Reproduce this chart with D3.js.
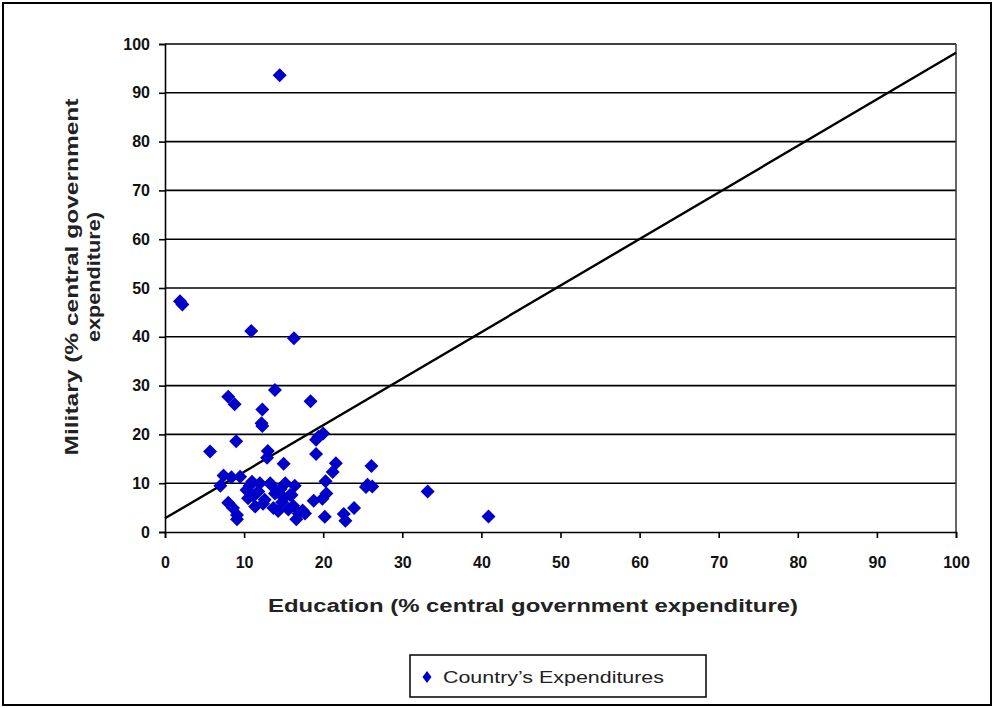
<!DOCTYPE html>
<html>
<head>
<meta charset="utf-8">
<script src="https://cdn.jsdelivr.net/npm/d3@7"></script>
<style>
  html, body { margin: 0; padding: 0; background: #fff; }
  svg { display: block; }
</style>
</head>
<body>
<svg id="chart" width="995" height="708"></svg>
<script>
// ---- data ----
const education = [
  14.5, 1.9, 2.2, 10.9, 16.3, 13.9, 18.4, 8.0, 8.8, 12.3,
  12.2, 12.3, 9.0, 5.7, 13.0, 12.9, 15.0, 20.0, 19.4, 19.1,
  19.1, 21.6, 21.2, 26.1, 25.6, 26.2, 25.4, 33.2, 40.9, 23.9,
  22.6, 22.8, 20.2, 20.3, 20.4, 19.9, 18.8, 17.4, 16.6, 16.9,
  16.4, 16.0, 16.2, 15.2, 15.0, 14.8, 14.3, 13.9, 13.7, 13.4,
  12.6, 12.0, 11.8, 11.4, 11.0, 10.5, 10.3, 10.7, 9.5, 8.4,
  7.4, 7.0, 8.0, 8.6, 9.1, 9.1, 17.7, 15.8, 13.3, 11.2,
  14.6, 15.6, 12.4
];
const military = [
  93.6, 47.3, 46.6, 41.2, 39.7, 29.1, 26.8, 27.7, 26.2, 25.1,
  22.3, 21.7, 18.6, 16.5, 16.6, 15.2, 14.0, 20.2, 19.5, 18.9,
  16.0, 14.1, 12.3, 13.5, 9.7, 9.3, 9.2, 8.3, 3.2, 4.9,
  3.7, 2.3, 3.1, 10.4, 7.9, 6.8, 6.4, 4.4, 2.6, 3.8,
  9.5, 7.6, 5.4, 10.0, 7.0, 6.1, 4.3, 7.9, 4.9, 9.7,
  6.6, 10.0, 8.3, 5.2, 10.3, 6.9, 8.6, 9.5, 11.3, 11.2,
  11.6, 9.5, 6.0, 4.9, 3.5, 2.6, 3.8, 7.6, 10.0, 7.4,
  8.8, 4.6, 5.8
];
const trendX = [0, 100];
const trendY = [2.8, 98.2];
const xTicks = [0, 10, 20, 30, 40, 50, 60, 70, 80, 90, 100];
const yTicks = [0, 10, 20, 30, 40, 50, 60, 70, 80, 90, 100];
const xTitle = "Education (% central government expenditure)";
const yTitle1 = "Military (% central government";
const yTitle2 = "expenditure)";
const legendLabel = "Country\u2019s Expenditures";

// ---- layout ----
const svg = d3.select("#chart");
const pLeft = 165, pRight = 956, pTop = 44, pBottom = 532;
const x = d3.scaleLinear().domain([0, 100]).range([pLeft, pRight]);
const y = d3.scaleLinear().domain([0, 100]).range([pBottom, pTop]);
const blue = "#0000c8";
const font = "'Liberation Sans', Arial, sans-serif";

// outer frame
svg.append("rect").attr("x", 3).attr("y", 3).attr("width", 988).attr("height", 702)
  .attr("fill", "none").attr("stroke", "#000").attr("stroke-width", 2);

// gridlines
svg.append("g").selectAll("line").data(yTicks.filter(d => d > 0)).join("line")
  .attr("x1", pLeft).attr("x2", pRight)
  .attr("y1", d => y(d)).attr("y2", d => y(d))
  .attr("stroke", "#000").attr("stroke-width", 1.6);

// right border of plot area
svg.append("line").attr("x1", pRight).attr("x2", pRight).attr("y1", pTop).attr("y2", pBottom)
  .attr("stroke", "#333").attr("stroke-width", 1.5);

// axes
const xAxis = svg.append("g").attr("transform", `translate(0,${pBottom})`)
  .call(d3.axisBottom(x).tickValues(xTicks).tickSize(6).tickPadding(19).tickFormat(d3.format("d")));
const yAxis = svg.append("g").attr("transform", `translate(${pLeft},0)`)
  .call(d3.axisLeft(y).tickValues(yTicks).tickSize(6).tickPadding(9).tickFormat(d3.format("d")));
[xAxis, yAxis].forEach(g => {
  g.select(".domain").attr("stroke", "#000").attr("stroke-width", 1.6);
  g.selectAll(".tick line").attr("stroke", "#000").attr("stroke-width", 1.6);
  g.selectAll(".tick text").attr("fill", "#111").attr("font-family", font)
    .attr("font-weight", "bold").attr("font-size", 16);
});

// trend line
const lineGen = d3.line().x(d => x(d[0])).y(d => y(d[1]));
svg.append("path").datum(d3.zip(trendX, trendY)).attr("d", lineGen)
  .attr("fill", "none").attr("stroke", "#000").attr("stroke-width", 2.4);

// points (diamonds)
const diamond = (r) => `M0,${-r}L${r},0L0,${r}L${-r},0Z`;
svg.append("g").selectAll("path").data(d3.zip(education, military)).join("path")
  .attr("transform", d => `translate(${x(d[0])},${y(d[1])})`)
  .attr("d", diamond(7))
  .attr("fill", blue);

// axis titles
svg.append("text").attr("x", 533).attr("y", 612).attr("text-anchor", "middle")
  .attr("font-family", font).attr("font-weight", "bold").attr("font-size", 18)
  .attr("fill", "#222").attr("textLength", 530).attr("lengthAdjust", "spacingAndGlyphs")
  .text(xTitle);
const yt = svg.append("g").attr("transform", "translate(0,277) rotate(-90)");
yt.append("text").attr("x", 0).attr("y", 78).attr("text-anchor", "middle")
  .attr("font-family", font).attr("font-weight", "bold").attr("font-size", 18)
  .attr("fill", "#222").attr("textLength", 357).attr("lengthAdjust", "spacingAndGlyphs")
  .text(yTitle1);
yt.append("text").attr("x", 0).attr("y", 100).attr("text-anchor", "middle")
  .attr("font-family", font).attr("font-weight", "bold").attr("font-size", 18)
  .attr("fill", "#222").attr("textLength", 130).attr("lengthAdjust", "spacingAndGlyphs")
  .text(yTitle2);

// legend
svg.append("rect").attr("x", 410).attr("y", 655).attr("width", 296).attr("height", 42)
  .attr("fill", "#fff").attr("stroke", "#000").attr("stroke-width", 1.5);
svg.append("path").attr("transform", "translate(427,677)")
  .attr("d", "M0,-6L4.5,0L0,6L-4.5,0Z").attr("fill", blue);
svg.append("text").attr("x", 443).attr("y", 683)
  .attr("font-family", font).attr("font-size", 17).attr("fill", "#222")
  .attr("textLength", 221).attr("lengthAdjust", "spacingAndGlyphs")
  .text(legendLabel);
</script>
</body>
</html>
